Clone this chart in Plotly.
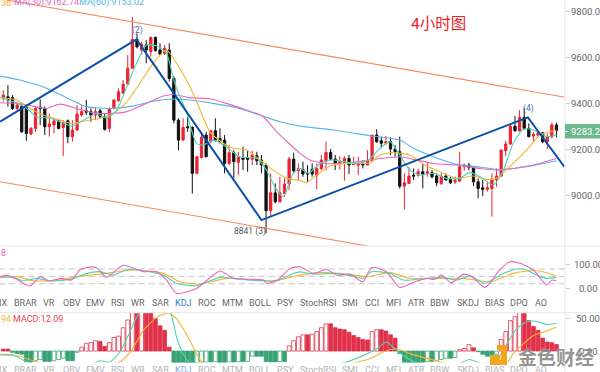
import plotly.graph_objects as go

W, H = 600, 372
opens = [9423,9430,9426,9379,9389,9384,9267,9292,9384,9379,9299,9307,9325,9296,9325,9256,9285,9350,9369,9365,9350,9369,9343,9292,9379,9413,9445,9485,9554,9680,9634,9656,9627,9689,9634,9619,9634,9510,9328,9241,9299,9296,9096,9165,9263,9234,9282,9248,9241,9139,9186,9144,9163,9163,9157,9173,9154,9132,8933,9011,8972,9008,9049,9158,9107,9113,9096,9113,9088,9117,9151,9187,9158,9139,9142,9161,9135,9132,9139,9132,9151,9263,9238,9227,9234,9202,9190,9040,9052,9088,9088,9103,9096,9099,9084,9052,9084,9069,9059,9062,9125,9132,9122,9059,9033,9026,9030,9067,9084,9195,9224,9302,9282,9340,9292,9259,9263,9273,9234,9256,9307]
closes = [9437,9416,9379,9394,9277,9270,9292,9379,9378,9299,9311,9325,9292,9317,9256,9285,9355,9365,9363,9350,9365,9343,9288,9379,9416,9452,9485,9554,9680,9648,9659,9634,9689,9631,9616,9641,9510,9328,9241,9296,9295,9096,9168,9253,9168,9282,9241,9234,9139,9186,9147,9168,9157,9157,9176,9151,9132,8933,9011,8972,9011,9049,9158,9107,9117,9093,9093,9093,9117,9154,9187,9158,9139,9147,9161,9132,9142,9139,9132,9151,9263,9234,9227,9234,9202,9190,9040,9055,9084,9084,9103,9093,9103,9081,9055,9081,9067,9055,9067,9125,9132,9122,9059,9030,9026,9033,9067,9084,9197,9224,9302,9282,9340,9292,9256,9266,9273,9234,9256,9307,9283]
highs = [9459,9481,9437,9408,9401,9394,9299,9389,9419,9387,9357,9336,9331,9328,9331,9328,9394,9394,9416,9379,9384,9379,9355,9384,9419,9467,9503,9612,9779,9707,9670,9677,9692,9692,9663,9656,9663,9520,9336,9336,9343,9302,9171,9277,9277,9285,9336,9292,9263,9219,9197,9190,9212,9197,9195,9190,9176,9139,9096,9052,9081,9074,9168,9186,9139,9147,9132,9139,9139,9176,9234,9202,9176,9171,9171,9176,9168,9168,9154,9197,9263,9288,9256,9259,9253,9219,9256,9096,9125,9117,9117,9139,9139,9110,9096,9096,9096,9081,9081,9190,9139,9142,9128,9074,9067,9059,9096,9117,9200,9238,9307,9346,9372,9379,9314,9277,9277,9277,9270,9317,9317]
lows = [9408,9387,9372,9372,9273,9238,9263,9277,9307,9263,9256,9270,9288,9171,9227,9234,9282,9343,9350,9321,9328,9336,9282,9276,9375,9408,9445,9481,9554,9641,9612,9576,9605,9627,9612,9612,9496,9314,9197,9238,9277,9008,9093,9161,9168,9227,9234,9227,9096,9132,9074,9088,9110,9103,9132,9132,9096,8834,8907,8965,8969,8994,9023,9096,9067,9081,9059,9081,9026,9110,9110,9154,9110,9113,9064,9093,9132,9088,9117,9132,9151,9229,9205,9219,9176,9168,9030,8939,9049,9067,9081,9030,9081,9074,9040,9045,9064,9049,9049,9059,9107,9110,9040,8987,8997,9016,8907,9037,9081,9171,9219,9277,9277,9285,9253,9234,9256,9227,9202,9248,9253]

ma60_i = [-0.7,3.6,9.4,13.7,18,23,28,32,36,40.5,45.5,50.6,55.7,60,64.4,71.6,79.5,86,89,93.3,98.3,102.7,107.7,113.5,120]
ma60_v = [9520,9503,9467,9426,9387,9379,9389,9408,9419,9416,9401,9382,9350,9321,9302,9285,9260,9241,9205,9168,9135,9125,9113,9125,9151]
ma30_i = [-0.7,2.9,6.5,9.4,12.3,15.9,19.5,23.1,26.8,31,34.7,36.9,40.5,44.8,48.4,52.8,56.4,59.3,64.4,66.5,70.1,75.2,79.5,86,89,93.3,98.3,103.4,107.7,111.4,115,120]
ma30_v = [9404,9401,9389,9379,9398,9379,9360,9357,9365,9401,9433,9440,9426,9421,9401,9372,9343,9277,9183,9154,9139,9142,9154,9168,9157,9139,9132,9117,9110,9120,9132,9161]
ma10_i = [-0.7,2.9,5.8,8.7,12.3,14.8,18,21,23.9,26.8,29.6,32.5,35.4,37.6,40.5,42.7,44.8,47.7,49.9,52.8,55.7,58.6,61.5,64.4,65.8,68,70.9,73.8,79.5,81.7,84.6,88.2,91.1,94.7,98.3,102,104.8,107,110.6,113.5,116.4,120]
ma10_v = [9427,9416,9379,9350,9328,9314,9325,9336,9357,9408,9488,9576,9634,9576,9474,9372,9277,9227,9205,9197,9154,9110,9074,9064,9055,9088,9128,9139,9142,9176,9186,9176,9136,9103,9074,9084,9069,9074,9139,9197,9263,9285]
ma5_i = [-0.7,2.2,5.1,7.2,10.1,12.3,14.8,17.4,20.2,22.4,24.6,26.8,28.9,31.1,33.3,35.4,37.2,39.8,41.9,43.4,45.6,48.4,51.3,55,57.1,58.9,60.7,62.9,64.4,66.2,68.7,71.6,73.8,76.6,79.2,81.7,83.9,86,88.2,90.4,93.3,96.2,99,101.2,103.4,106.3,108.5,110.6,112.8,115,117.9,120]
ma5_v = [9427,9408,9379,9343,9336,9321,9302,9328,9357,9336,9372,9474,9576,9656,9651,9619,9488,9357,9227,9219,9241,9212,9168,9161,9110,9037,8994,9096,9117,9096,9139,9154,9147,9139,9154,9205,9234,9176,9110,9088,9096,9074,9074,9100,9081,9045,9110,9227,9288,9285,9256,9263]

wave_i = [-0.7,28.9,56,113.8,121.7]
wave_v = [9321,9680,8892,9340,9125]
upper_i = [0.7,121.85]
upper_v = [9852,9428]
lower_i = [-0.7,79]
lower_v = [9059,8779]

j_i = [-0.7,0.7,2.9,5.8,8,9.8,12.7,14.8,16.6,18.1,20.2,22.3,26,30.4,33.3,35.4,37.6,41.9,47,49.9,56.4,57.1,59.3,62.2,64.4,67.2,70.1,72.3,75.2,78,79.9,83.1,86,89.3,91.8,93.6,95,97.2,99.8,101.6,104.5,107.7,109.9,112.1,115,117.9,119,120]
j_v = [46,55,38,11,49,32,42,35,76,86,86,46,95,69,69,35,-19,1,72,42,35,22,32,82,89,62,78,55,59,28,86,69,5,28,42,38,55,24,59,49,5,76,109,103,76,15,35,32]
k_i = [-0.7,2.2,4.3,7.2,10.1,14.8,18.1,21,23.9,26.8,30.4,34.7,37.6,41.9,47,51.3,56.4,59.3,62.9,64.4,67.2,71.6,75.9,78,79.9,83.9,86.8,91.8,95.4,98.3,101.2,104.5,107.7,111.4,113.5,115.7,117.9,120]
k_v = [49,46,32,42,32,38,62,69,55,78,73,55,22,12,46,38,32,32,62,68,59,62,51,42,69,62,35,42,46,35,51,22,55,80,76,55,42,46]
d_i = [-0.7,2.9,6.5,12.3,15.9,21,28.2,34.7,38.3,42.7,48.4,54.2,58.6,64.4,68.7,73,78.8,83.9,88.2,94.7,99.8,105.6,110.6,114.2,116.4,120]
d_v = [46,49,32,35,49,59,76,62,28,19,42,35,32,55,65,62,49,65,42,42,42,28,62,73,72,51]

macd_hist = [3,3,-2,-4,-5,-17,-17,-15,-13,-16,-16,-15,-13,-11,-15,-15,-2,6,12,13,16,15,7,13,21,23,36,48,60,58,60,60,60,50,39,32,6,-18,-18.5,-18.5,-18.5,-18.5,-18,-17.5,-17,-17,-16.5,-18,-18,-17,-17,-16.5,-16.5,-16,-8,-8,-8,-16,-17,-17,-16,-16,8,16,22,25,25,26,30,36,42,42,36,34,33,29,24,21,18,17,30,33,33,31,25,20,-4,-18,-18,-18,-18,-18,-16,-16,-15,-13,-11,-11,-10,2,4,10,5,-1,-5,-8,-10,-5,18,30,47,53,60,58,47,38,32,20,14,13,10]
dif_i = [-0.7,2.2,4.3,8.7,17.4,21,23.1,25.3,27.5,29.6,33.3,36.2,37.6,39,40.5,44,64,73.4,77.4,81,83.1,85.3,86.8,89.7,94.7,99,101.2,103.4,105.6,107.7,109.5,111.4,113.5,115.7,117.9,120]
dif_v = [-5,-6,-14,-25,-25,-15,-17,-1.5,30,59,62,59,21,-4,-19,-30,-25,-19,-9,3.6,14,1,-7,-19,-28,-19,-13,-19,-25,-7,14,35,45,46,41,43]
dea_i = [-0.7,3.6,8,21,25.3,27.8,30.4,33.3,35.8,37.6,40.5,43.4,64,79.5,82.4,85.3,88.2,93.3,96.2,102,107.7,109.2,110.6,112.8,115,117.9,120]
dea_v = [-6,-8,-19,-22,-17,1,32,52,59,50,16,-19,-35,-12,-1.5,3.6,-4,-14,-19,-22,-22,-20,-4,11,24,31,37]

price_ticks = [9000,9200,9400,9600,9800]
kdj_ticks = [0,100]
kdj_guides = [20,50,80]
macd_ticks = [0,50]

tab_names = ["IX","BRAR","VR","OBV","EMV","RSI","WR","SAR","KDJ","ROC","MTM","BOLL","PSY","StochRSI","SMI","CCI","MFI","ATR","BBW","SKDJ","BIAS","DPO","AO"]
tab_px = [3,25,49,72,95,117,138,160,183,207,232,260,285,318,350,372,393,416,440,468,494,519,541]

TEAL, ORANGE, PINK, BLUE = "#4fd4b4", "#f6b530", "#e866c4", "#55b6ea"
RED, BLACK, GREEN = "#ee2233", "#111111", "#36a272"
FONT = "Roboto, 'Noto Sans CJK SC', sans-serif"
GREY = "#666666"

def py(px):
    return 1 - px / H

fig = go.Figure()
sm = 0.6

fig.add_trace(go.Candlestick(x=list(range(len(opens))), open=opens, high=highs, low=lows, close=closes,
    increasing=dict(line=dict(color=RED, width=1), fillcolor=RED),
    decreasing=dict(line=dict(color=BLACK, width=1), fillcolor=BLACK),
    whiskerwidth=0, xaxis="x", yaxis="y", showlegend=False))

for xs, ys, c in [(ma60_i, ma60_v, BLUE), (ma30_i, ma30_v, PINK), (ma10_i, ma10_v, ORANGE), (ma5_i, ma5_v, TEAL)]:
    fig.add_trace(go.Scatter(x=xs, y=ys, mode="lines", line=dict(color=c, width=1.1, shape="spline", smoothing=sm),
                             xaxis="x", yaxis="y", showlegend=False))
for xs, ys in [(upper_i, upper_v), (lower_i, lower_v)]:
    fig.add_trace(go.Scatter(x=xs, y=ys, mode="lines", line=dict(color="#f58a5e", width=1.1), xaxis="x", yaxis="y", showlegend=False))
fig.add_trace(go.Scatter(x=wave_i, y=wave_v, mode="lines", line=dict(color="#0b4fa8", width=2), xaxis="x", yaxis="y", showlegend=False))

for v in kdj_guides:
    fig.add_trace(go.Scatter(x=[-1, 122], y=[v, v], mode="lines", line=dict(color="#c4c4c4", width=1, dash="6px,4px"),
                             xaxis="x2", yaxis="y2", showlegend=False))
for xs, ys, c in [(d_i, d_v, ORANGE), (k_i, k_v, TEAL), (j_i, j_v, PINK)]:
    fig.add_trace(go.Scatter(x=xs, y=ys, mode="lines", line=dict(color=c, width=1.1, shape="spline", smoothing=sm),
                             xaxis="x2", yaxis="y2", showlegend=False))

fills, edges = [], []
for i, v in enumerate(macd_hist):
    prev = macd_hist[i - 1] if i else v
    base = "#e0314a" if v >= 0 else GREEN
    fills.append("#ffffff" if v > prev else base)
    edges.append(base)
fig.add_trace(go.Bar(x=list(range(len(macd_hist))), y=macd_hist, width=0.82,
                     marker=dict(color=fills, line=dict(color=edges, width=0.8)),
                     xaxis="x3", yaxis="y3", showlegend=False))
for xs, ys, c in [(dea_i, dea_v, ORANGE), (dif_i, dif_v, TEAL)]:
    fig.add_trace(go.Scatter(x=xs, y=ys, mode="lines", line=dict(color=c, width=1.1, shape="spline", smoothing=sm),
                             xaxis="x3", yaxis="y3", showlegend=False))

xdom = [0, 565 / W]
xbase = dict(domain=xdom, range=[-0.716, 121.85], showgrid=False, zeroline=False, showticklabels=False, ticks="",
             fixedrange=True, automargin=False)
ybase = dict(side="right", showgrid=False, zeroline=False, ticks="outside", ticklen=4, tickcolor="#cccccc", tickwidth=1,
             showline=False, automargin=False, fixedrange=True, showticklabels=False)

layout = dict(
    width=W, height=H, margin=dict(l=0, r=0, t=0, b=0, autoexpand=False), paper_bgcolor="white", plot_bgcolor="white",
    showlegend=False, bargap=0,
    xaxis=dict(**xbase, rangeslider=dict(visible=False), anchor="y"),
    xaxis2=dict(**xbase, anchor="y2"),
    xaxis3=dict(**xbase, anchor="y3"),
    yaxis=dict(**ybase, domain=[py(246), 1], range=[8779, 9852], tickvals=price_ticks, anchor="x"),
    yaxis2=dict(**ybase, domain=[py(296), py(247)], range=[-29.6, 169], tickvals=kdj_ticks, anchor="x2"),
    yaxis3=dict(**ybase, domain=[py(362.5), py(313)], range=[-17.7, 58.8], tickvals=macd_ticks, anchor="x3"),
)
fig.update_layout(**layout)

def text(px, pyy, s, size=9, color=GREY, anchor="center", **kw):
    fig.add_annotation(xref="paper", yref="paper", x=px / W, y=py(pyy), text=s, showarrow=False, xanchor=anchor,
                       yanchor="middle", font=dict(family=FONT, size=size, color=color), borderpad=0, **kw)

# axis labels centred in the right-hand gutter, positioned by each axis's own scale
for axis, ticks in (("y", price_ticks), ("y2", kdj_ticks), ("y3", macd_ticks)):
    for v in ticks:
        fig.add_annotation(xref="paper", yref=axis, x=588 / W, y=v, text=f"{v:.2f}", showarrow=False, xanchor="center",
                           yanchor="middle", font=dict(family=FONT, size=9.5, color=GREY), borderpad=0)

for y in (246, 312.7):
    fig.add_shape(type="line", xref="paper", yref="paper", x0=0, x1=1, y0=py(y), y1=py(y), line=dict(color="#e6e6e6", width=1))
fig.add_shape(type="line", xref="paper", yref="paper", x0=565 / W, x1=565 / W, y0=0, y1=1, line=dict(color="#e6e6e6", width=1))

text(0, 3, "36", color=ORANGE, anchor="left")
text(13, 3, "MA(30):9162.74", color=PINK, anchor="left")
text(78, 3, "MA(60):9153.02", color=BLUE, anchor="left")
text(410, 24, "4小时图", size=15.5, color="#f0202a", anchor="left")
text(0, 253, "8", color=PINK, anchor="left")
text(0, 319, "94", color=ORANGE, anchor="left")
text(12, 319, "MACD:12.09", color="#ee4455", anchor="left")

text(137, 30, "(2)", size=8.5, color="#3a6fc0")
text(528, 109, "(4)", size=8.5, color="#3a6fc0")
text(250, 231, "8841 (3)", size=8.5, color="#555555")

fig.add_shape(type="rect", xref="paper", yref="paper", x0=565 / W, x1=1, y0=py(138.5), y1=py(124), fillcolor="#6cb98e", line=dict(width=0))
fig.add_shape(type="line", xref="paper", yref="paper", x0=565 / W, x1=569 / W, y0=py(131.5), y1=py(131.5), line=dict(color="white", width=1))
text(588, 131, "9283.27", size=9.5, color="white")

for name, px in zip(tab_names, tab_px):
    text(px, 303, name, color="#2f7de1" if name == "KDJ" else GREY)
    text(px, 369.5, name, color="#2f7de1" if name == "KDJ" else "#888888", opacity=0.65)

for x0, x1, y0, y1 in [(490, 500, 355, 365), (490, 507, 360, 365), (501, 507, 345, 365), (497, 507, 345, 350)]:
    fig.add_shape(type="rect", xref="paper", yref="paper", x0=x0 / W, x1=x1 / W, y0=py(y1), y1=py(y0), fillcolor="#f5a41d", line=dict(width=0))
fig.add_annotation(xref="paper", yref="paper", x=556 / W, y=py(356), text="<b>金色财经</b>", showarrow=False, xanchor="center",
                   yanchor="middle", font=dict(family="Noto Sans CJK SC", size=19, color="rgba(120,120,120,0.8)", shadow="0 0 2px white"))

fig.write_html("out.html", config=dict(displayModeBar=False, staticPlot=True), post_script="document.body.style.margin='0';")
